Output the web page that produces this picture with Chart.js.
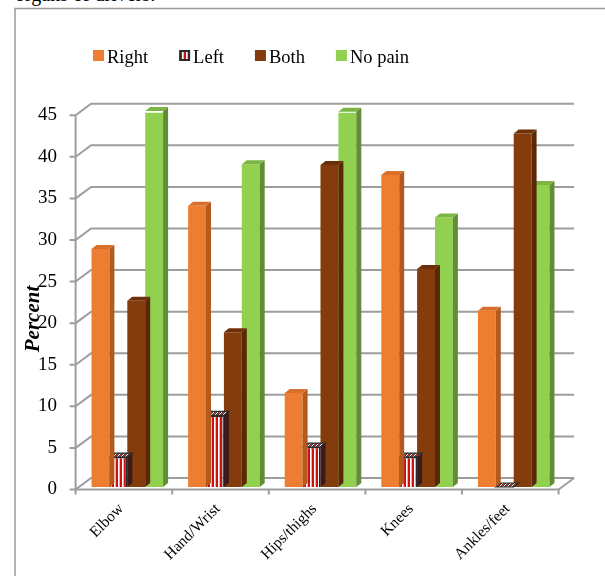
<!DOCTYPE html>
<html>
<head>
<meta charset="utf-8">
<script src="https://cdn.jsdelivr.net/npm/chart.js@4"></script>
<style>
  html, body { margin: 0; padding: 0; background: #fff; }
  #wrap { position: relative; width: 605px; height: 576px; overflow: hidden; }
  #caption { position: absolute; left: 15px; top: -16px; font: 20px "Liberation Serif", "Times New Roman", serif; line-height: 20px; white-space: nowrap; color: #000; }
  canvas { position: absolute; left: 0; top: 0; }
</style>
</head>
<body>
<div id="wrap">
  <div id="caption">organs of drivers.</div>
  <canvas id="chart" width="605" height="576"></canvas>
</div>
<script>
// Body regions and the share of drivers reporting pain on each side
const categories = ['Elbow', 'Hand/Wrist', 'Hips/thighs', 'Knees', 'Ankles/feet'];
const rightPct  = [28.6, 33.8, 11.3, 37.5, 21.2];
const leftPct   = [3.6, 8.6, 4.8, 3.6, 0];
const bothPct   = [22.4, 18.6, 38.7, 26.2, 42.5];
const noPainPct = [45.2, 38.8, 45.1, 32.4, 36.3];
const seriesNames = ['Right', 'Left', 'Both', 'No pain'];
const yAxisTitle = 'Percent';

const SERIF = '"Liberation Serif", "Times New Roman", serif';

// pseudo-3D geometry (pixels): wall front/back planes relative to the bar plane
const FRONT = { dx: -3.4, dy: 2.5 };
const BACK = { dx: 12.1, dy: -9 };
const BAR_DEPTH = { dx: 5, dy: -4 };

function stripePattern() {
  const c = document.createElement('canvas');
  c.width = 4; c.height = 4;
  const g = c.getContext('2d');
  g.fillStyle = '#d01010'; g.fillRect(0, 0, 4, 4);
  g.fillStyle = '#ffffff'; g.fillRect(2, 0, 1, 4);
  g.fillStyle = '#f3b0b0'; g.fillRect(3, 0, 1, 4);
  return g.createPattern(c, 'repeat');
}
function hatchPattern() {
  const c = document.createElement('canvas');
  c.width = 4; c.height = 4;
  const g = c.getContext('2d');
  g.fillStyle = '#3a3a3a'; g.fillRect(0, 0, 4, 4);
  g.fillStyle = '#e03030';
  for (let i = 0; i < 4; i++) g.fillRect(3 - i, i, 1, 1);
  g.fillStyle = '#ffffff';
  for (let i = 0; i < 4; i++) g.fillRect((5 - i) % 4, i, 1, 1);
  return g.createPattern(c, 'repeat');
}
const stripes = stripePattern();
const hatch = hatchPattern();

// outer frame, back wall, floor and front axis
const wallPlugin = {
  id: 'wall3d',
  beforeDraw(chart) {
    const ctx = chart.ctx;
    ctx.save();
    ctx.strokeStyle = '#9a9a9a';
    ctx.lineWidth = 1.5;
    ctx.strokeRect(15, 8.5, 700, 700);
    ctx.restore();
  },
  beforeDatasetsDraw(chart) {
    const ctx = chart.ctx, a = chart.chartArea, ys = chart.scales.y;
    const fl = a.left + FRONT.dx, fr = a.right + FRONT.dx;
    const bl = a.left + BACK.dx, br = a.right + BACK.dx;
    ctx.save();
    ctx.strokeStyle = '#9d9d9d';
    ctx.lineWidth = 2;
    ys.ticks.forEach(t => {
      const p = ys.getPixelForValue(t.value);
      ctx.beginPath();
      ctx.moveTo(fl - 6, p + FRONT.dy);
      ctx.lineTo(fl, p + FRONT.dy);
      ctx.lineTo(bl, p + BACK.dy);
      ctx.lineTo(br, p + BACK.dy);
      ctx.stroke();
    });
    const y0 = ys.getPixelForValue(ys.min), y1 = ys.getPixelForValue(ys.max);
    ctx.beginPath();
    ctx.moveTo(fl, y1 + FRONT.dy);
    ctx.lineTo(fl, y0 + FRONT.dy);
    ctx.lineTo(fr, y0 + FRONT.dy);
    ctx.lineTo(br, y0 + BACK.dy);
    ctx.stroke();
    const n = chart.data.labels.length, step = (a.right - a.left) / n;
    ctx.beginPath();
    for (let i = 0; i <= n; i++) {
      const x = fl + i * step;
      ctx.moveTo(x, y0 + FRONT.dy);
      ctx.lineTo(x, y0 + FRONT.dy + 5);
    }
    ctx.stroke();
    ctx.restore();
  }
};

// side and top faces of each column
const extrudePlugin = {
  id: 'extrude',
  afterDatasetDraw(chart, args) {
    const ds = chart.data.datasets[args.index];
    const ctx = chart.ctx;
    const dx = BAR_DEPTH.dx, dy = BAR_DEPTH.dy;
    ctx.save();
    args.meta.data.forEach(bar => {
      const { x, y, base, width } = bar.getProps(['x', 'y', 'base', 'width'], true);
      const l = x - width / 2, r = x + width / 2;
      ctx.beginPath();
      ctx.moveTo(r, y); ctx.lineTo(r + dx, y + dy);
      ctx.lineTo(r + dx, base + dy); ctx.lineTo(r, base);
      ctx.closePath();
      ctx.fillStyle = ds.sideColor; ctx.fill();
      ctx.beginPath();
      ctx.moveTo(l, y); ctx.lineTo(r, y);
      ctx.lineTo(r + dx, y + dy); ctx.lineTo(l + dx, y + dy);
      ctx.closePath();
      ctx.fillStyle = ds.topColor; ctx.fill();
      if (ds.edgeColor) { ctx.strokeStyle = ds.edgeColor; ctx.lineWidth = 1.2; ctx.stroke(); }
    });
    ctx.restore();
  }
};

// legend row and the rotated axis title
const labelPlugin = {
  id: 'labels',
  afterDraw(chart) {
    const ctx = chart.ctx;
    ctx.save();
    ctx.font = '18.5px ' + SERIF;
    ctx.textBaseline = 'alphabetic';
    ctx.fillStyle = '#000';
    const box = 11, gap = 3, spacing = 31;
    const items = chart.data.datasets.map(ds => ({ ds, w: ctx.measureText(ds.label).width }));
    const total = items.reduce((s, it) => s + box + gap + it.w, 0) + spacing * (items.length - 1);
    let x = 251 - total / 2;
    const boxTop = 50, baseline = 62.5;
    items.forEach(it => {
      const ds = it.ds;
      if (ds.edgeColor) {
        ctx.fillStyle = ds.borderColor; ctx.fillRect(x, boxTop, box, box);
        ctx.fillStyle = stripes; ctx.fillRect(x + 2, boxTop + 2, box - 4, box - 4);
      } else {
        ctx.fillStyle = ds.backgroundColor; ctx.fillRect(x, boxTop, box, box);
      }
      ctx.fillStyle = '#000';
      ctx.fillText(ds.label, x + box + gap, baseline);
      x += box + gap + it.w + spacing;
    });
    ctx.translate(34, 319);
    ctx.rotate(-Math.PI / 2);
    ctx.font = 'italic bold 21px ' + SERIF;
    ctx.textAlign = 'center';
    ctx.textBaseline = 'middle';
    ctx.fillText(yAxisTitle, 0, 0);
    ctx.restore();
  }
};

Chart.defaults.font.family = SERIF;
Chart.defaults.color = '#000';

new Chart(document.getElementById('chart'), {
  type: 'bar',
  data: {
    labels: categories,
    datasets: [
      { label: seriesNames[0], data: rightPct, backgroundColor: '#ED7D31', sideColor: '#B45A20', topColor: '#D8702C', borderWidth: 0 },
      { label: seriesNames[1], data: leftPct, backgroundColor: stripes, borderColor: '#2a2a2a', borderWidth: 1.5, sideColor: '#3a1a1a', topColor: hatch, edgeColor: '#2a2a2a' },
      { label: seriesNames[2], data: bothPct, backgroundColor: '#843C0C', sideColor: '#5A2806', topColor: '#6C310A', borderWidth: 0 },
      { label: seriesNames[3], data: noPainPct, backgroundColor: '#92D050', sideColor: '#618D36', topColor: '#7DB544', borderWidth: 0 }
    ]
  },
  options: {
    responsive: false,
    animation: false,
    layout: { padding: { top: 112.7, right: 43, left: 0, bottom: 0 } },
    datasets: { bar: { categoryPercentage: 0.741, barPercentage: 1 } },
    plugins: { legend: { display: false }, tooltip: { enabled: false } },
    scales: {
      x: {
        grid: { display: false, drawTicks: false },
        border: { display: false },
        ticks: { font: { size: 15.5 }, maxRotation: 45, minRotation: 45, autoSkip: false, padding: 13, labelOffset: -6 },
        afterFit(s) { s.height = 89; }
      },
      y: {
        min: 0, max: 45,
        grid: { display: false, drawTicks: false },
        border: { display: false },
        ticks: { stepSize: 5, font: { size: 19 }, padding: 22, labelOffset: 2.5 },
        afterFit(s) { s.width = 79; }
      }
    }
  },
  plugins: [wallPlugin, extrudePlugin, labelPlugin]
});
</script>
</body>
</html>
